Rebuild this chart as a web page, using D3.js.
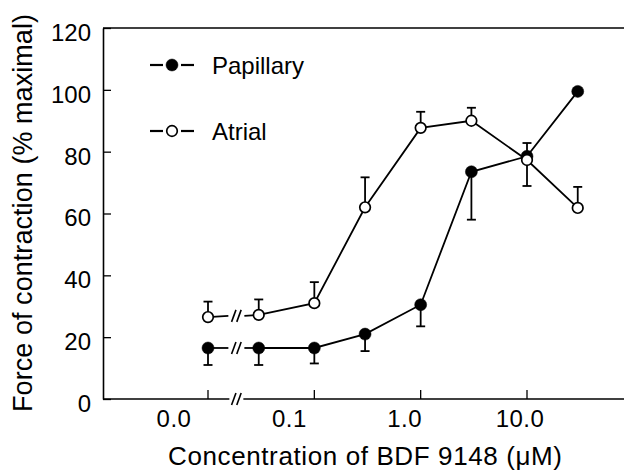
<!DOCTYPE html>
<html>
<head>
<meta charset="utf-8">
<script src="https://cdn.jsdelivr.net/npm/d3@7"></script>
<style>
  html, body { margin: 0; padding: 0; background: #fff; }
  svg { display: block; }
  text { font-family: "Liberation Sans", Arial, Helvetica, sans-serif; fill: #000; }
</style>
</head>
<body>
<script>
// ---- data ----
const concentrations = [0, 0.03, 0.1, 0.3, 1, 3, 10, 30];   // µM, 0 = control
const papillary      = [16.5, 16.5, 16.5, 21, 30.5, 73.5, 78.5, 99.5];
const papillarySEM   = [5.5, 5.5, 5, 5.5, 7, 15.5, 4.3, 0];
const papillaryDir   = [-1, -1, -1, -1, -1, -1, 1, -1];
const atrial         = [26.5, 27.2, 31, 62, 87.7, 90, 77.3, 61.8];
const atrialSEM      = [5, 5, 6.8, 9.7, 5.2, 4.2, 8.4, 6.8];
const atrialDir      = [1, 1, 1, 1, 1, 1, -1, 1];
const xTickValues    = [0, 0.1, 1, 10];
const xTickLabels    = ["0.0", "0.1", "1.0", "10.0"];
const yTickValues    = [0, 20, 40, 60, 80, 100, 120];
const legendLabels   = ["Papillary", "Atrial"];

(function () {
const W = 624, H = 472;
const svg = d3.select("body").append("svg").attr("width", W).attr("height", H);

const axisX = 103, plotTop = 28, plotBottom = 399;
const xLog = d3.scaleLog().domain([0.01, 10]).range([208, 527]);
const xPos = c => c === 0 ? xLog(0.01) : xLog(c);
const y = d3.scaleLinear().domain([0, 120]).range([plotBottom, plotTop]);
const labelPos = d3.scalePoint().domain(xTickLabels).range([174, 520]);

const breakX = (xPos(concentrations[0]) + xPos(concentrations[1])) / 2 + 3;

function drawBreak(g, bx, by) {
  [-2.6, 2.6].forEach(dx => {
    g.append("line")
      .attr("x1", bx + dx - 2.2).attr("y1", by + 6)
      .attr("x2", bx + dx + 2.2).attr("y2", by - 6)
      .attr("stroke", "#000").attr("stroke-width", 1.6);
  });
}

// ---- axes ----
svg.append("line").attr("x1", axisX).attr("x2", W).attr("y1", plotTop).attr("y2", plotTop)
  .attr("stroke", "#000").attr("stroke-width", 1.6);
svg.append("line").attr("x1", axisX).attr("x2", breakX - 7).attr("y1", plotBottom).attr("y2", plotBottom)
  .attr("stroke", "#000").attr("stroke-width", 1.6);
svg.append("line").attr("x1", breakX + 7).attr("x2", W).attr("y1", plotBottom).attr("y2", plotBottom)
  .attr("stroke", "#000").attr("stroke-width", 1.6);
drawBreak(svg, breakX, plotBottom);

const xg = svg.append("g");
xg.selectAll("line.tick").data(xTickValues).enter().append("line")
  .attr("class", "tick")
  .attr("x1", d => xPos(d)).attr("x2", d => xPos(d))
  .attr("y1", plotBottom).attr("y2", plotBottom - 9)
  .attr("stroke", "#000").attr("stroke-width", 1.3);
xg.selectAll("text").data(xTickLabels).enter().append("text")
  .attr("x", d => labelPos(d)).attr("y", 427)
  .attr("text-anchor", "middle").attr("font-size", 24)
  .attr("letter-spacing", 0.5)
  .text(d => d);

const yAxis = d3.axisLeft(y).tickValues(yTickValues).tickSizeInner(-8).tickSizeOuter(0).tickPadding(12)
  .tickFormat(d3.format("d"));
const yg = svg.append("g").attr("transform", `translate(${axisX},0)`).call(yAxis);
yg.select(".domain").attr("stroke-width", 1.6);
yg.selectAll(".tick line").attr("stroke-width", 1.3);
yg.selectAll(".tick text").attr("font-size", 24).attr("dy", "0.52em")
  .attr("font-family", '"Liberation Sans", Arial, sans-serif');

svg.append("text").attr("x", 365).attr("y", 465).attr("text-anchor", "middle")
  .attr("font-size", 26).attr("textLength", 394).attr("lengthAdjust", "spacing")
  .text("Concentration of BDF 9148 (\u03BCM)");
svg.append("text").attr("transform", "translate(32,213) rotate(-90)")
  .attr("text-anchor", "middle").attr("font-size", 27)
  .attr("textLength", 398).attr("lengthAdjust", "spacing")
  .text("Force of contraction (% maximal)");

// ---- series ----
const series = [
  { name: legendLabels[0], vals: papillary, sem: papillarySEM, dir: papillaryDir, fill: "#000" },
  { name: legendLabels[1], vals: atrial, sem: atrialSEM, dir: atrialDir, fill: "#fff" }
];

const plot = svg.append("g");
series.forEach(s => {
  const pts = concentrations.map((c, i) => [xPos(c), y(s.vals[i])]);
  concentrations.forEach((c, i) => {
    if (!s.sem[i]) return;
    const px = xPos(c), y0 = y(s.vals[i]), y1 = y(s.vals[i] + s.dir[i] * s.sem[i]);
    plot.append("line").attr("x1", px).attr("x2", px).attr("y1", y0).attr("y2", y1)
      .attr("stroke", "#000").attr("stroke-width", 1.8);
    plot.append("line").attr("x1", px - 4.5).attr("x2", px + 4.5).attr("y1", y1).attr("y2", y1)
      .attr("stroke", "#000").attr("stroke-width", 1.8);
  });
  const p0 = pts[0], p1 = pts[1];
  const yb = p0[1] + (p1[1] - p0[1]) * (breakX - p0[0]) / (p1[0] - p0[0]);
  plot.append("line").attr("x1", p0[0]).attr("y1", p0[1]).attr("x2", breakX - 8).attr("y2", yb)
    .attr("stroke", "#000").attr("stroke-width", 1.8);
  plot.append("line").attr("x1", breakX + 8).attr("y1", yb).attr("x2", p1[0]).attr("y2", p1[1])
    .attr("stroke", "#000").attr("stroke-width", 1.8);
  drawBreak(plot, breakX, yb);
  plot.append("path").datum(pts.slice(1))
    .attr("d", d3.line()).attr("fill", "none").attr("stroke", "#000").attr("stroke-width", 1.8);
});
series.forEach(s => {
  plot.selectAll(null).data(concentrations).enter().append("circle")
    .attr("cx", d => xPos(d)).attr("cy", (d, i) => y(s.vals[i]))
    .attr("r", s.fill === "#000" ? 6 : 5.3)
    .attr("fill", s.fill).attr("stroke", "#000").attr("stroke-width", s.fill === "#000" ? 0.5 : 1.7);
});

// ---- legend ----
const leg = svg.append("g");
series.forEach((s, i) => {
  const ly = [65, 131][i];
  leg.append("line").attr("x1", 150).attr("x2", 163).attr("y1", ly).attr("y2", ly)
    .attr("stroke", "#000").attr("stroke-width", 2.2);
  leg.append("line").attr("x1", 181).attr("x2", 194).attr("y1", ly).attr("y2", ly)
    .attr("stroke", "#000").attr("stroke-width", 2.2);
  leg.append("circle").attr("cx", 172).attr("cy", ly)
    .attr("r", s.fill === "#000" ? 6 : 5.3)
    .attr("fill", s.fill).attr("stroke", "#000").attr("stroke-width", s.fill === "#000" ? 0.5 : 1.7);
  leg.append("text").attr("x", 212).attr("y", ly + 8.5).attr("font-size", 24).text(s.name);
});
})();
</script>
</body>
</html>
